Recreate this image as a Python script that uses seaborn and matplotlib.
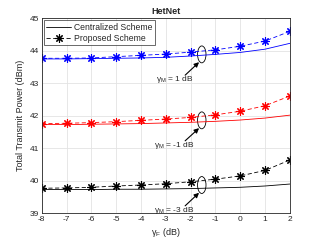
import numpy as np
import pandas as pd
import seaborn as sns
import matplotlib
matplotlib.use("Agg")
import matplotlib.pyplot as plt
from matplotlib.patches import Ellipse

# values
gamma_f = [-8, -7, -6, -5, -4, -3, -2, -1, 0, 1, 2]
gamma_m_labels = ["1", "-1", "-3"]
colors = ["#0000ff", "#ff0000", "#000000"]

prop_m1 = [43.77, 43.77, 43.78, 43.82, 43.86, 43.90, 43.96, 44.03, 44.14, 44.30, 44.60]
cent_m1 = [43.75, 43.75, 43.76, 43.77, 43.78, 43.80, 43.84, 43.89, 43.95, 44.05, 44.23]
prop_mm1 = [41.76, 41.77, 41.79, 41.82, 41.86, 41.90, 41.95, 42.03, 42.14, 42.31, 42.61]
cent_mm1 = [41.73, 41.73, 41.74, 41.75, 41.76, 41.78, 41.80, 41.83, 41.87, 41.93, 42.02]
prop_mm3 = [39.77, 39.78, 39.80, 39.84, 39.87, 39.91, 39.97, 40.05, 40.15, 40.32, 40.64]
cent_mm3 = [39.73, 39.73, 39.73, 39.74, 39.74, 39.75, 39.76, 39.78, 39.80, 39.84, 39.90]

# annotation spots: ellipse centre y, text y
ell_y = [43.89, 41.86, 39.87]
txt_y = [43.12, 41.10, 39.10]

sns.set_style("white")
plt.rcParams['font.family'] = ['Liberation Sans', 'DejaVu Sans']
plt.rcParams['mathtext.fontset'] = 'custom'
plt.rcParams['mathtext.rm'] = 'Liberation Sans'
plt.rcParams['mathtext.it'] = 'Liberation Sans'
plt.rcParams['axes.unicode_minus'] = False

fig = plt.figure(figsize=(3.21, 2.41), dpi=100)
ax = fig.add_axes([0.130, 0.115, 0.773, 0.809])

asterisk = (8, 2, 0)  # matlab-style '*'
cent = [cent_m1, cent_mm1, cent_mm3]
prop = [prop_m1, prop_mm1, prop_mm3]
for i in range(3):
    df = pd.DataFrame({"gf": gamma_f, "c": cent[i], "p": prop[i]})
    sns.lineplot(data=df, x="gf", y="c", ax=ax, color=colors[i], lw=0.6,
                 label="Centralized Scheme" if i == 0 else None)
    sns.lineplot(data=df, x="gf", y="p", ax=ax, color=colors[i], lw=0.6,
                 linestyle=(0, (5, 3)), marker=asterisk, markersize=6,
                 markeredgewidth=0.8, markeredgecolor=colors[i],
                 label="Proposed Scheme" if i == 0 else None)

# ellipses and arrows pointing at each pair of curves
for i in range(3):
    ax.add_patch(Ellipse((-1.55, ell_y[i]), 0.34, 0.52, fill=False,
                         ec="black", lw=0.6))
    ax.annotate("", xy=(-1.66, ell_y[i] - 0.24), xytext=(-2.22, txt_y[i] + 0.13),
                arrowprops=dict(arrowstyle="-|>", color="black", lw=0.8,
                                mutation_scale=7, shrinkA=0, shrinkB=0))
    ax.text(-2.65, txt_y[i], r"$\gamma_{\rm M}$ = " + gamma_m_labels[i] + " dB",
            fontsize=6, ha="center", va="center")

ax.set_xlim(-8, 2)
ax.set_ylim(39, 45)
ax.set_xticks(gamma_f)
ax.set_yticks([39, 40, 41, 42, 43, 44, 45])
ax.grid(True, color="#e3e3e3", lw=0.6)
ax.tick_params(direction="in", length=2.5, width=0.5, labelsize=6,
               colors="#262626", pad=2)
for s in ax.spines.values():
    s.set_color("#262626")
    s.set_linewidth(0.6)

ax.set_xlabel(r"$\gamma_{\rm F}$ (dB)", fontsize=6.5, color="#262626", labelpad=2)
ax.set_ylabel("Total Transmit Power (dBm)", fontsize=6.5, color="#262626", labelpad=3)
ax.set_title("HetNet", fontsize=6.5, fontweight="bold", pad=3)

leg = ax.legend(loc="upper left", fontsize=6.2, frameon=True, fancybox=False,
                borderpad=0.3, handlelength=2.8, handletextpad=0.4,
                labelspacing=0.2, borderaxespad=0.25)
leg.get_frame().set_edgecolor("#262626")
leg.get_frame().set_linewidth(0.6)
for h in leg.legend_handles:
    h.set_color("black")
    h.set_markeredgecolor("black")

fig.savefig("out.png", dpi=100)
